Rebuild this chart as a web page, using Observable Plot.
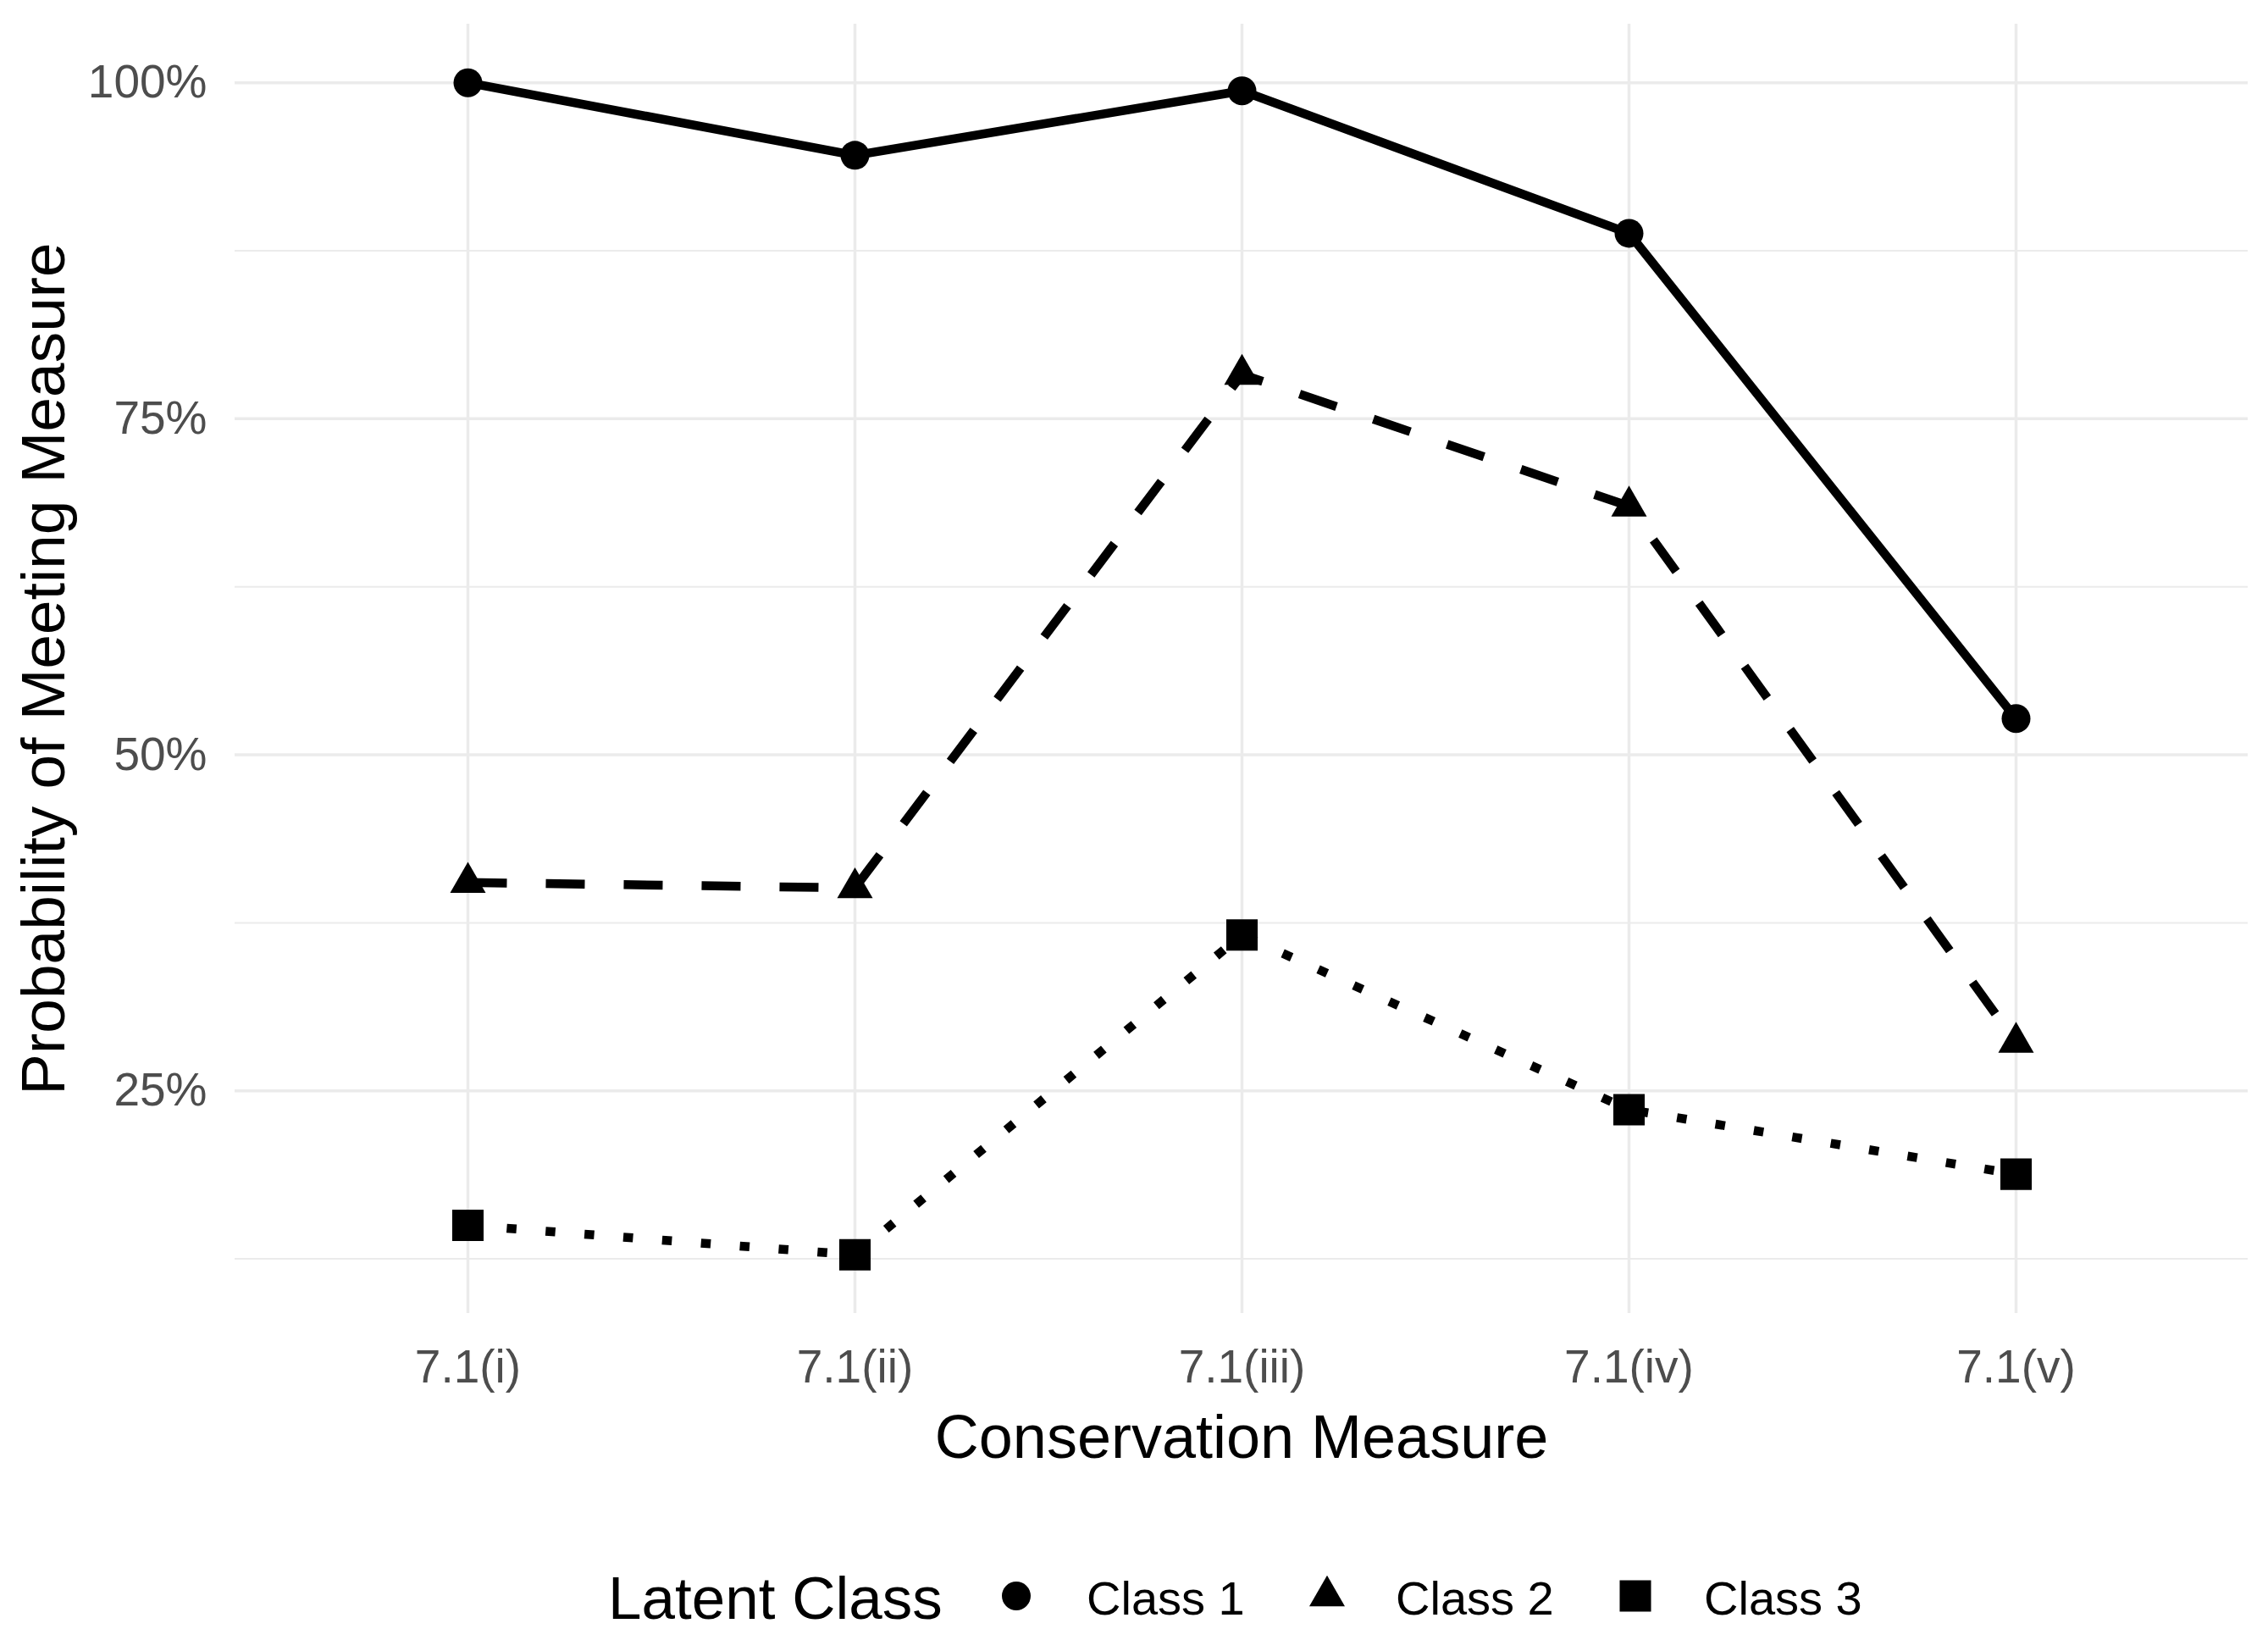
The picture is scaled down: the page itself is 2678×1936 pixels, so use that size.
<!DOCTYPE html>
<html>
<head>
<meta charset="utf-8">
<script src="https://cdn.jsdelivr.net/npm/d3@7"></script>
<script src="https://cdn.jsdelivr.net/npm/@observablehq/plot@0.6"></script>
<style>
  html, body { margin: 0; padding: 0; background: #ffffff; }
  #chart { width: 2678px; font-family: "Liberation Sans", Arial, sans-serif; }
  #legend { display: block; }
</style>
</head>
<body>
<div id="chart"></div>
<script>
// ---- Data ----
const measures = ["7.1(i)", "7.1(ii)", "7.1(iii)", "7.1(iv)", "7.1(v)"];
const classes = ["Class 1", "Class 2", "Class 3"];
const class1 = [1.000, 0.946, 0.994, 0.888, 0.527];
const class2 = [0.405, 0.401, 0.783, 0.685, 0.286];
const class3 = [0.150, 0.128, 0.366, 0.236, 0.188];
const yTicks = [0.25, 0.50, 0.75, 1.00];
const yMinorTicks = [0.125, 0.375, 0.625, 0.875];
const xTitle = "Conservation Measure";
const yTitle = "Probability of Meeting Measure";
const legendTitle = "Latent Class";

// ---- Build table ----
const seriesValues = [class1, class2, class3];
const data = classes.flatMap((c, i) =>
  measures.map((m, j) => ({cls: c, measure: m, p: seriesValues[i][j]}))
);

// ggplot-like 5% expansion of the continuous y range
const [lo, hi] = d3.extent(data, d => d.p);
const pad = (hi - lo) * 0.05;

const styleOf = {
  "Class 1": {symbol: "circle",   r: 17,   dash: null},
  "Class 2": {symbol: "triangle", r: 15.6, dash: "46,46"},
  "Class 3": {symbol: "square",   r: 20.9, dash: "11.5,34.5"}
};

const W = 2678, H = 1800;
const font = "Liberation Sans, Arial, sans-serif";
const tickColor = "#4D4D4D";
const gridColor = "#EBEBEB";

const lineMarks = classes.map(c => Plot.line(data.filter(d => d.cls === c), {
  x: "measure", y: "p", stroke: "black", strokeWidth: 10.5,
  strokeDasharray: styleOf[c].dash, strokeLinecap: "butt", strokeLinejoin: "round"
}));
const dotMarks = classes.map(c => Plot.dot(data.filter(d => d.cls === c), {
  x: "measure", y: "p", symbol: () => styleOf[c].symbol, r: styleOf[c].r,
  fill: "black", stroke: "none"
}));

const plot = Plot.plot({
  width: W,
  height: H,
  marginLeft: 277,
  marginRight: 24,
  marginTop: 28,
  marginBottom: 250,
  style: {fontFamily: font, background: "white", overflow: "visible"},
  x: {type: "point", domain: measures, padding: 0.6, label: null},
  y: {domain: [lo - pad, hi + pad], label: null},
  symbol: {type: "identity"},
  marks: [
    Plot.gridY(yMinorTicks, {stroke: gridColor, strokeOpacity: 1, strokeWidth: 2}),
    Plot.gridY(yTicks, {stroke: gridColor, strokeOpacity: 1, strokeWidth: 3.5}),
    Plot.gridX(measures, {stroke: gridColor, strokeOpacity: 1, strokeWidth: 3.5}),
    Plot.axisX(measures, {tickSize: 0, tickPadding: 42, fontSize: 55, fill: tickColor, label: null}),
    Plot.axisY(yTicks, {tickSize: 0, tickPadding: 33, fontSize: 55, fill: tickColor,
      tickFormat: d3.format(".0%"), label: null}),
    ...lineMarks,
    ...dotMarks,
    Plot.text([xTitle], {text: d => d, frameAnchor: "bottom", dy: 147, fontSize: 72,
      fill: "black", textAnchor: "middle", lineAnchor: "middle"}),
    Plot.text([yTitle], {text: d => d, frameAnchor: "left", rotate: -90, dx: -225, fontSize: 73,
      fill: "black", textAnchor: "middle", lineAnchor: "middle"})
  ]
});
document.getElementById("chart").appendChild(plot);

// ---- Legend (below the plot) ----
const LH = 136;
const legend = d3.create("svg")
  .attr("id", "legend")
  .attr("width", W).attr("height", LH)
  .attr("viewBox", `0 0 ${W} ${LH}`)
  .style("font-family", font);

legend.append("text")
  .attr("x", 718).attr("y", 111)
  .attr("font-size", 71).attr("fill", "black")
  .text(legendTitle);

const legendSymbolX = [1200, 1567, 1931];
const legendLabelX = [1283, 1648, 2012];
const d3Symbols = {circle: d3.symbolCircle, triangle: d3.symbolTriangle, square: d3.symbolSquare};
classes.forEach((c, i) => {
  const s = styleOf[c];
  legend.append("path")
    .attr("transform", `translate(${legendSymbolX[i]},84)`)
    .attr("d", d3.symbol(d3Symbols[s.symbol], Math.PI * s.r * s.r)())
    .attr("fill", "black");
  legend.append("text")
    .attr("x", legendLabelX[i]).attr("y", 106)
    .attr("font-size", 56).attr("fill", "black")
    .text(c);
});
document.getElementById("chart").appendChild(legend.node());
</script>
</body>
</html>
